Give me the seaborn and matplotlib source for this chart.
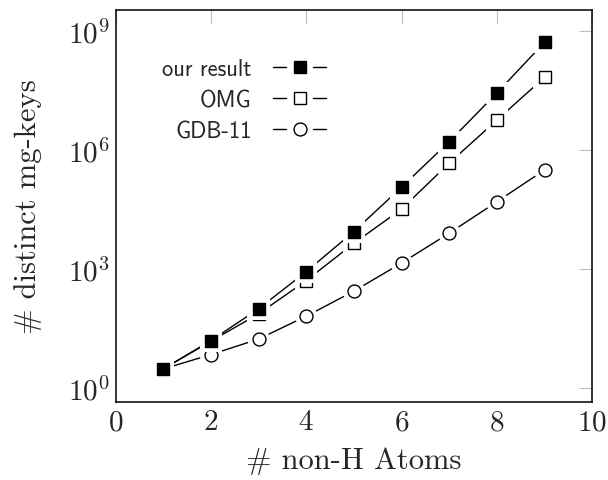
import numpy as np
import pandas as pd
import matplotlib
matplotlib.use("Agg")
import matplotlib.pyplot as plt
import seaborn as sns
from matplotlib.lines import Line2D
from matplotlib.legend_handler import HandlerBase
from matplotlib.ticker import FuncFormatter, NullLocator

atoms = [1, 2, 3, 4, 5, 6, 7, 8, 9]
our_result = [3.0, 15.5, 98, 850, 8700, 114000, 1.6e6, 2.7e7, 5.1e8]
omg = [3.0, 15.0, 73, 505, 4400, 32000, 4.6e5, 5.6e6, 6.7e7]
gdb11 = [3.0, 6.9, 17, 64, 274, 1400, 7900, 49000, 310000]
series_names = ["our result", "OMG", "GDB-11"]

sns.set_style("white")
plt.rcParams["mathtext.fontset"] = "cm"
plt.rcParams["axes.unicode_minus"] = False

df = pd.concat([
    pd.DataFrame({"atoms": atoms, "count": our_result, "series": "our result"}),
    pd.DataFrame({"atoms": atoms, "count": omg, "series": "OMG"}),
    pd.DataFrame({"atoms": atoms, "count": gdb11, "series": "GDB-11"}),
])

fig = plt.figure(figsize=(6.08, 4.81), dpi=100)
ax = fig.add_axes([0.190, 0.163, 0.784, 0.814])

styles = {
    "our result": dict(marker="s", face="black"),
    "OMG": dict(marker="s", face="white"),
    "GDB-11": dict(marker="o", face="white"),
}
ms = 9.3
halo = 16

for name in series_names:
    sub = df[df["series"] == name]
    sns.lineplot(data=sub, x="atoms", y="count", ax=ax, color="black",
                 linewidth=1.0, zorder=2, legend=False)
for i, name in enumerate(series_names[::-1]):
    sub = df[df["series"] == name]
    st = styles[name]
    sns.scatterplot(data=sub, x="atoms", y="count", ax=ax, marker=st["marker"],
                    s=halo**2, color="white", edgecolor="none", linewidth=0,
                    zorder=3 + 2 * i, legend=False)
    sns.scatterplot(data=sub, x="atoms", y="count", ax=ax, marker=st["marker"],
                    s=ms**2, color=st["face"], edgecolor="black", linewidth=1.0,
                    zorder=4 + 2 * i, legend=False)

ax.set_yscale("log")
ax.set_xlim(0, 10)
ax.set_ylim(10 ** -0.345, 10 ** 9.52)
ax.set_xticks([0, 2, 4, 6, 8, 10])
ax.set_yticks([1, 1e3, 1e6, 1e9])
ax.yaxis.set_minor_locator(NullLocator())
ax.yaxis.set_major_formatter(FuncFormatter(lambda v, p: r"$10^{%d}$" % round(np.log10(v))))
ax.xaxis.set_major_formatter(FuncFormatter(lambda v, p: r"$%d$" % round(v)))

ax.tick_params(axis="both", which="major", direction="in", length=9.5, width=0.8,
               color="#bdbdbd", top=True, right=True, labelsize=21, pad=4)
for sp in ax.spines.values():
    sp.set_linewidth(1.1)
    sp.set_color("black")

ax.set_xlabel("# non-H Atoms", fontfamily="cmr10", fontsize=22, labelpad=8)
ax.set_ylabel("# distinct mg-keys", fontfamily="cmr10", fontsize=22, labelpad=19)


class GapHandler(HandlerBase):
    def create_artists(self, legend, orig_handle, xdescent, ydescent, width,
                       height, fontsize, trans):
        y = height / 2.0 - ydescent
        x0 = -xdescent
        x1 = x0 + width
        xc = (x0 + x1) / 2.0
        gap = 0.26 * width
        l1 = Line2D([x0, xc - gap], [y, y], color="black", linewidth=1.0)
        l2 = Line2D([xc + gap, x1], [y, y], color="black", linewidth=1.0)
        m = Line2D([xc], [y], linestyle="none", marker=orig_handle.get_marker(),
                   markersize=orig_handle.get_markersize(),
                   markerfacecolor=orig_handle.get_markerfacecolor(),
                   markeredgecolor="black", markeredgewidth=1.0)
        for a in (l1, l2, m):
            a.set_transform(trans)
        return [l1, l2, m]


handles = []
for name in series_names:
    st = styles[name]
    handles.append(Line2D([], [], marker=st["marker"], markersize=ms,
                          markerfacecolor=st["face"], color="black"))

leg = ax.legend(handles, series_names, handler_map={Line2D: GapHandler()},
                loc="upper left", bbox_to_anchor=(0.055, 0.929), frameon=False,
                markerfirst=False, handlelength=2.35, handletextpad=0.95,
                labelspacing=0.4, prop={"family": "cmss10", "size": 16.3})

fig.savefig("out.png", dpi=100)
